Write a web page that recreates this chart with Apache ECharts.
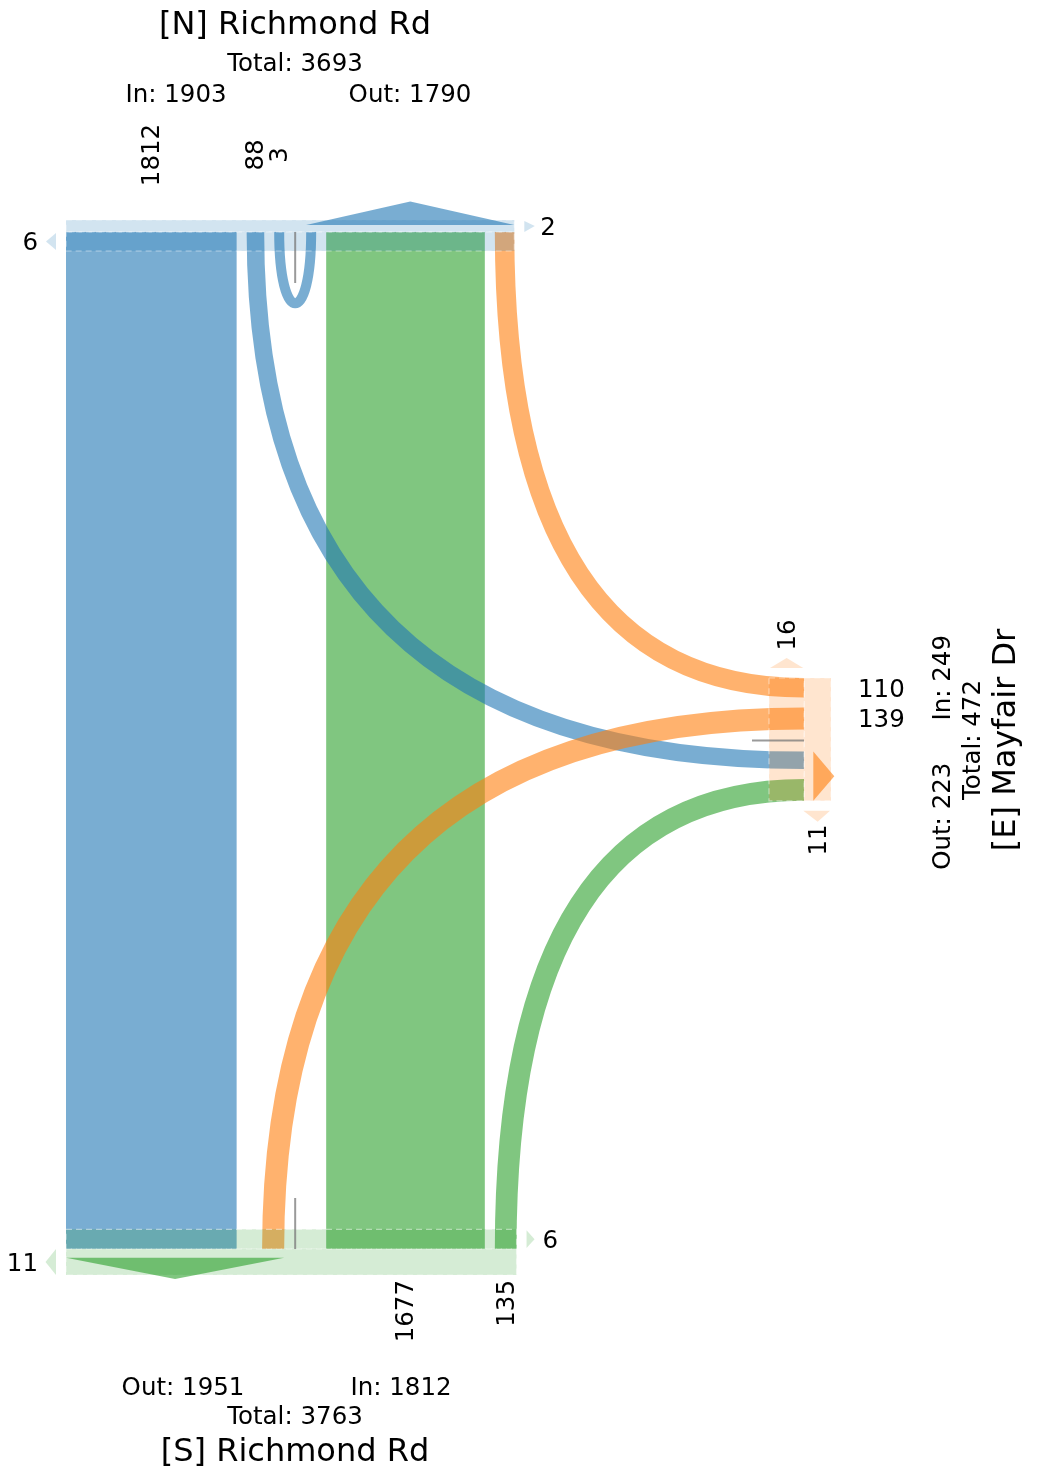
<!DOCTYPE html>
<html>
<head>
<meta charset="utf-8">
<script src="https://cdn.jsdelivr.net/npm/echarts@6/dist/echarts.min.js"></script>
<style>
html,body{margin:0;padding:0;background:#ffffff;}
#chart{width:1037px;height:1469px;}
</style>
</head>
<body>
<div id="chart"></div>
<script>
// ---------------- data ----------------
const approachIds = ['N', 'S', 'E'];
const approachNames = ['[N] Richmond Rd', '[S] Richmond Rd', '[E] Mayfair Dr'];
const flowOrigins = ['N', 'N', 'N', 'S', 'S', 'E', 'E'];
const flowDestinations = ['S', 'E', 'N', 'N', 'E', 'N', 'S'];
const flowVolumes = [1812, 88, 3, 1677, 135, 110, 139];
const sideCountPlaces = ['N-left', 'N-right', 'S-left', 'S-right', 'E-top', 'E-bottom'];
const sideCounts = [6, 2, 11, 6, 16, 11];

// ---------------- layout / style ----------------
const W = 1037, H = 1469;
const FONT = 'DejaVu Sans, Verdana, sans-serif';
const baseColor = { N: [31, 119, 180], S: [44, 160, 44], E: [255, 127, 14] };
const rgba = (c, a) => 'rgba(' + c[0] + ',' + c[1] + ',' + c[2] + ',' + a + ')';
const widthOf = v => 9.73 + 0.0888 * v;
const GAP = 10, MED = 11;
const X0 = 66, N_EDGE = 232, S_EDGE = 1249, E_EDGE = 804, E_Y0 = 678;
const N_OUT_BAND = [220, 232], N_IN_BAND = [232, 251];
const S_IN_BAND = [1229.3, 1249], S_OUT_BAND = [1249, 1275];
const E_IN_BAND = [769, 804.3], E_OUT_BAND = [804.3, 831];
const UTURN_DEPTH = 95;
const TXT_DY = 2.5, TXT_DX_ROT = 1.5;

function vol(o, d) {
  for (let i = 0; i < flowVolumes.length; i++) {
    if (flowOrigins[i] === o && flowDestinations[i] === d) return flowVolumes[i];
  }
  return 0;
}
function total(list, key) {
  let s = 0;
  for (let i = 0; i < flowVolumes.length; i++) if (list[i] === key) s += flowVolumes[i];
  return s;
}
const slot = {};
function put(key, start, v) { slot[key] = [start, start + widthOf(v)]; return slot[key][1]; }
const mid = k => (slot[k][0] + slot[k][1]) / 2;

// N approach (x)
let x = put('NS', X0, vol('N', 'S')) + GAP;
x = put('NE', x, vol('N', 'E')) + GAP;
x = put('NNin', x, vol('N', 'N'));
const MED_X = x + MED;
x = MED_X + MED;
x = put('NNout', x, vol('N', 'N')) + GAP;
x = put('SN', x, vol('S', 'N')) + GAP;
const nRight = put('EN', x, vol('E', 'N'));
// S approach (x)
put('ES', MED_X - MED - widthOf(vol('E', 'S')), vol('E', 'S'));
const sRight = put('SE', slot.SN[1] + GAP, vol('S', 'E'));
// E approach (y)
let y = put('EN_y', E_Y0, vol('E', 'N')) + GAP;
y = put('ES_y', y, vol('E', 'S'));
const MED_Y = y + MED;
y = MED_Y + MED;
y = put('NE_y', y, vol('N', 'E')) + GAP;
const eBottom = put('SE_y', y, vol('S', 'E'));

const drawOrder = [];
['S', 'N', 'E'].forEach(o => flowOrigins.forEach((f, i) => { if (f === o) drawOrder.push(i); }));

function renderFlow(params, api) {
  const i = api.value(0);
  const o = flowOrigins[i], d = flowDestinations[i], v = flowVolumes[i];
  const c = api.coord.bind(api);
  const w = c([widthOf(v), 0])[0] - c([0, 0])[0];
  const col = rgba(baseColor[o], 0.6);
  const key = o + d;
  if (key === 'NS' || key === 'SN') {
    const s = slot[key];
    const p1 = c([s[0], N_EDGE]), p2 = c([s[1], S_EDGE]);
    return { type: 'rect', shape: { x: p1[0], y: p1[1], width: p2[0] - p1[0], height: p2[1] - p1[1] }, style: { fill: col } };
  }
  let pts;
  if (key === 'NN') {
    const a = c([mid('NNin'), N_EDGE]), b1 = c([mid('NNin'), N_EDGE + UTURN_DEPTH]),
          b2 = c([mid('NNout'), N_EDGE + UTURN_DEPTH]), e = c([mid('NNout'), N_EDGE]);
    return { type: 'bezierCurve', shape: { x1: a[0], y1: a[1], cpx1: b1[0], cpy1: b1[1], cpx2: b2[0], cpy2: b2[1], x2: e[0], y2: e[1] },
             style: { stroke: col, lineWidth: w, fill: null, lineCap: 'butt' } };
  }
  if (key === 'NE') pts = [[mid('NE'), N_EDGE], [mid('NE'), mid('NE_y')], [E_EDGE, mid('NE_y')]];
  if (key === 'SE') pts = [[mid('SE'), S_EDGE], [mid('SE'), mid('SE_y')], [E_EDGE, mid('SE_y')]];
  if (key === 'EN') pts = [[E_EDGE, mid('EN_y')], [mid('EN'), mid('EN_y')], [mid('EN'), N_EDGE]];
  if (key === 'ES') pts = [[E_EDGE, mid('ES_y')], [mid('ES'), mid('ES_y')], [mid('ES'), S_EDGE]];
  const p = pts.map(q => c(q));
  return { type: 'bezierCurve', shape: { x1: p[0][0], y1: p[0][1], cpx1: p[1][0], cpy1: p[1][1], x2: p[2][0], y2: p[2][1] },
           style: { stroke: col, lineWidth: w, fill: null, lineCap: 'butt' } };
}

function renderDecor(params, api) {
  const c = api.coord.bind(api);
  const kids = [];
  const band = (x1, y1, x2, y2, ap) => {
    const a = c([x1, y1]), b = c([x2, y2]);
    kids.push({ type: 'rect', shape: { x: a[0], y: a[1], width: b[0] - a[0], height: b[1] - a[1] },
      style: { fill: rgba(baseColor[ap], 0.2), stroke: 'rgba(255,255,255,0.45)', lineWidth: 1.2, lineDash: [6, 4] } });
  };
  const poly = (list, fill) => kids.push({ type: 'polygon', shape: { points: list.map(q => c(q)) }, style: { fill: fill } });
  const line = (x1, y1, x2, y2) => {
    const a = c([x1, y1]), b = c([x2, y2]);
    kids.push({ type: 'line', shape: { x1: a[0], y1: a[1], x2: b[0], y2: b[1] }, style: { stroke: 'rgba(120,120,120,0.75)', lineWidth: 2 } });
  };
  // bands
  band(X0, N_OUT_BAND[0], nRight, N_OUT_BAND[1], 'N');
  band(X0, N_IN_BAND[0], nRight, N_IN_BAND[1], 'N');
  band(X0, S_IN_BAND[0], sRight, S_IN_BAND[1], 'S');
  band(X0, S_OUT_BAND[0], sRight, S_OUT_BAND[1], 'S');
  band(E_IN_BAND[0], E_Y0, E_IN_BAND[1], eBottom, 'E');
  band(E_OUT_BAND[0], E_Y0, E_OUT_BAND[1], eBottom, 'E');
  // outbound arrows
  const nm = (slot.NNout[0] + nRight) / 2;
  poly([[slot.NNout[0], 225], [nRight, 225], [nm, 201.5]], rgba(baseColor.N, 0.6));
  const sm = (X0 + slot.ES[1]) / 2;
  poly([[X0, 1257.7], [slot.ES[1], 1257.7], [sm, 1279]], rgba(baseColor.S, 0.6));
  const em = (slot.NE_y[0] + eBottom) / 2;
  poly([[813.3, slot.NE_y[0]], [813.3, eBottom], [834.3, em]], rgba(baseColor.E, 0.6));
  // small side markers
  const pale = ap => rgba(baseColor[ap], 0.2);
  poly([[X0 - 10, N_IN_BAND[0] + 1], [X0 - 10, N_IN_BAND[1] - 1], [X0 - 20, (N_IN_BAND[0] + N_IN_BAND[1]) / 2]], pale('N'));
  poly([[nRight + 10, N_OUT_BAND[0] + 1], [nRight + 10, N_OUT_BAND[1]], [nRight + 20.5, (N_OUT_BAND[0] + N_OUT_BAND[1]) / 2]], pale('N'));
  poly([[X0 - 10, S_OUT_BAND[0]], [X0 - 10, S_OUT_BAND[1]], [X0 - 20.5, (S_OUT_BAND[0] + S_OUT_BAND[1]) / 2]], pale('S'));
  poly([[sRight + 10, S_IN_BAND[0] + 1], [sRight + 10, S_IN_BAND[1] - 1], [sRight + 18, (S_IN_BAND[0] + S_IN_BAND[1]) / 2]], pale('S'));
  poly([[E_IN_BAND[0] + 1, E_Y0 - 10], [E_IN_BAND[1] - 1, E_Y0 - 10], [(E_IN_BAND[0] + E_IN_BAND[1]) / 2, E_Y0 - 20]], pale('E'));
  poly([[E_OUT_BAND[0] - 1, eBottom + 10], [E_OUT_BAND[1] - 1, eBottom + 10], [(E_OUT_BAND[0] + E_OUT_BAND[1]) / 2, eBottom + 21]], pale('E'));
  // median separators
  line(MED_X, N_EDGE, MED_X, N_EDGE + 51);
  line(MED_X, S_EDGE - 51, MED_X, S_EDGE);
  line(E_EDGE - 52, MED_Y, E_EDGE, MED_Y);
  return { type: 'group', children: kids };
}

function renderText(params, api) {
  const c = api.coord.bind(api);
  const kids = [];
  const t = (str, px, py, size, align, rot) => {
    const p = c(rot ? [px + TXT_DX_ROT, py] : [px, py + TXT_DY]);
    kids.push({ type: 'text', x: p[0], y: p[1], rotation: rot ? Math.PI / 2 : 0,
      style: { text: String(str), fill: '#000', fontSize: size, fontFamily: FONT, align: align || 'center', verticalAlign: 'middle' } });
  };
  const S1 = 24.5, S2 = 32;
  // North
  t(approachNames[0], 295, 23, S2);
  t('Total: ' + (total(flowOrigins, 'N') + total(flowDestinations, 'N')), 295, 62.5, S1);
  t('In: ' + total(flowOrigins, 'N'), 176, 93, S1);
  t('Out: ' + total(flowDestinations, 'N'), 410, 93, S1);
  t(vol('N', 'S'), mid('NS'), 155, S1, 'center', true);
  t(vol('N', 'E'), mid('NE'), 155, S1, 'center', true);
  t(vol('N', 'N'), mid('NNin'), 155, S1, 'center', true);
  // South
  t(approachNames[1], 295, 1450, S2);
  t('Total: ' + (total(flowOrigins, 'S') + total(flowDestinations, 'S')), 295, 1415, S1);
  t('Out: ' + total(flowDestinations, 'S'), 183, 1386, S1);
  t('In: ' + total(flowOrigins, 'S'), 401, 1386, S1);
  t(vol('S', 'N'), mid('SN'), 1280, S1, 'right', true);
  t(vol('S', 'E'), mid('SE'), 1280, S1, 'right', true);
  // East
  t(approachNames[2], 1005, 740, S2, 'center', true);
  t('Total: ' + (total(flowOrigins, 'E') + total(flowDestinations, 'E')), 972, 740, S1, 'center', true);
  t('In: ' + total(flowOrigins, 'E'), 942, MED_Y - 20, S1, 'left', true);
  t('Out: ' + total(flowDestinations, 'E'), 942, MED_Y + 22, S1, 'right', true);
  t(vol('E', 'N'), 858, mid('EN_y'), S1, 'left');
  t(vol('E', 'S'), 858, mid('ES_y'), S1, 'left');
  // side counts
  t(sideCounts[0], X0 - 28, (N_IN_BAND[0] + N_IN_BAND[1]) / 2, S1, 'right');
  t(sideCounts[1], nRight + 26, (N_OUT_BAND[0] + N_OUT_BAND[1]) / 2, S1, 'left');
  t(sideCounts[2], X0 - 28, (S_OUT_BAND[0] + S_OUT_BAND[1]) / 2, S1, 'right');
  t(sideCounts[3], sRight + 26, (S_IN_BAND[0] + S_IN_BAND[1]) / 2, S1, 'left');
  t(sideCounts[4], (E_IN_BAND[0] + E_IN_BAND[1]) / 2, 635, S1, 'center', true);
  t(sideCounts[5], (E_OUT_BAND[0] + E_OUT_BAND[1]) / 2, 840, S1, 'center', true);
  return { type: 'group', children: kids };
}

const chart = echarts.init(document.getElementById('chart'), null, { renderer: 'canvas' });
chart.setOption({
  animation: false,
  backgroundColor: '#ffffff',
  grid: { left: 0, right: 0, top: 0, bottom: 0 },
  xAxis: { type: 'value', min: 0, max: W, show: false },
  yAxis: { type: 'value', min: 0, max: H, inverse: true, show: false },
  series: [
    { type: 'custom', coordinateSystem: 'cartesian2d', clip: false, silent: true, z: 1,
      renderItem: renderFlow, data: drawOrder.map(i => [i, 0]) },
    { type: 'custom', coordinateSystem: 'cartesian2d', clip: false, silent: true, z: 2,
      renderItem: renderDecor, data: [[0, 0]] },
    { type: 'custom', coordinateSystem: 'cartesian2d', clip: false, silent: true, z: 3,
      renderItem: renderText, data: [[0, 0]] }
  ]
});
</script>
</body>
</html>
